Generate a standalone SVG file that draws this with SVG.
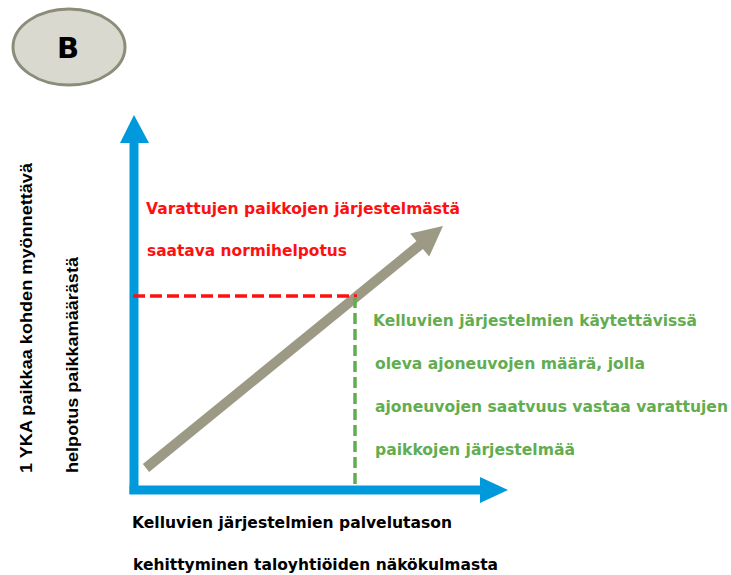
<svg xmlns="http://www.w3.org/2000/svg" width="731" height="575" viewBox="0 0 731 575">
<style>
.t{font-family:"DejaVu Sans",Verdana,sans-serif;font-weight:bold;font-size:15px}
.v{font-family:"Liberation Sans",Arial,sans-serif;font-weight:bold;font-size:16px;fill:#000}
.red{fill:#ff1010}
.grn{fill:#62ad4f}
.blk{fill:#000}
.axis{fill:#0099dc}
</style>
<rect width="731" height="575" fill="#fff"/>
<g id="badge">
<ellipse cx="69" cy="47" rx="56" ry="38" fill="#d9d9d0" stroke="#8c8c7a" stroke-width="3"/>
<text x="68" y="58" text-anchor="middle" font-family="DejaVu Sans,Verdana,sans-serif" font-weight="bold" font-size="29" fill="#000">B</text>
</g>
<g id="connectors">
<g id="y-axis" class="axis">
<rect x="129.5" y="142" width="9" height="352"/>
<polygon points="120,143 149,143 134,115"/>
</g>
<g id="x-axis" class="axis">
<rect x="129.5" y="485.5" width="352" height="9"/>
<polygon points="480,477 480,503 508,490"/>
</g>
<g id="trend">
<line x1="146" y1="468" x2="421" y2="244" stroke="#9c9985" stroke-width="10"/>
<polygon points="443,226 429.2,256.6 410.2,233.4" fill="#9c9985"/>
</g>
<line id="red-dash" x1="133" y1="296" x2="357" y2="296" stroke="#ff1010" stroke-width="3.5" stroke-dasharray="12,5"/>
<line id="green-dash" x1="355" y1="297" x2="355" y2="485" stroke="#62ad4f" stroke-width="3.5" stroke-dasharray="11,5"/>
</g>
<g id="red-label">
<text class="t red" x="146" y="214" textLength="314" lengthAdjust="spacingAndGlyphs">Varattujen paikkojen järjestelmästä</text>
<text class="t red" x="147" y="256" textLength="200" lengthAdjust="spacingAndGlyphs">saatava normihelpotus</text>
</g>
<g id="green-label">
<text class="t grn" x="373" y="326" textLength="324" lengthAdjust="spacingAndGlyphs">Kelluvien järjestelmien käytettävissä</text>
<text class="t grn" x="375" y="369" textLength="270" lengthAdjust="spacingAndGlyphs">oleva ajoneuvojen määrä, jolla</text>
<text class="t grn" x="375" y="412" textLength="353" lengthAdjust="spacingAndGlyphs">ajoneuvojen saatvuus vastaa varattujen</text>
<text class="t grn" x="375" y="455" textLength="200" lengthAdjust="spacingAndGlyphs">paikkojen järjestelmää</text>
</g>
<g id="x-label">
<text class="t blk" x="132" y="528" textLength="320" lengthAdjust="spacingAndGlyphs">Kelluvien järjestelmien palvelutason</text>
<text class="t blk" x="133" y="570" textLength="365" lengthAdjust="spacingAndGlyphs">kehittyminen taloyhtiöiden näkökulmasta</text>
</g>
<g id="y-label">
<text class="v" transform="translate(32,473) rotate(-90)" textLength="310" lengthAdjust="spacingAndGlyphs">1 YKA paikkaa kohden myönnettävä</text>
<text class="v" transform="translate(78,473) rotate(-90)" textLength="216" lengthAdjust="spacingAndGlyphs">helpotus paikkamäärästä</text>
</g>
</svg>
